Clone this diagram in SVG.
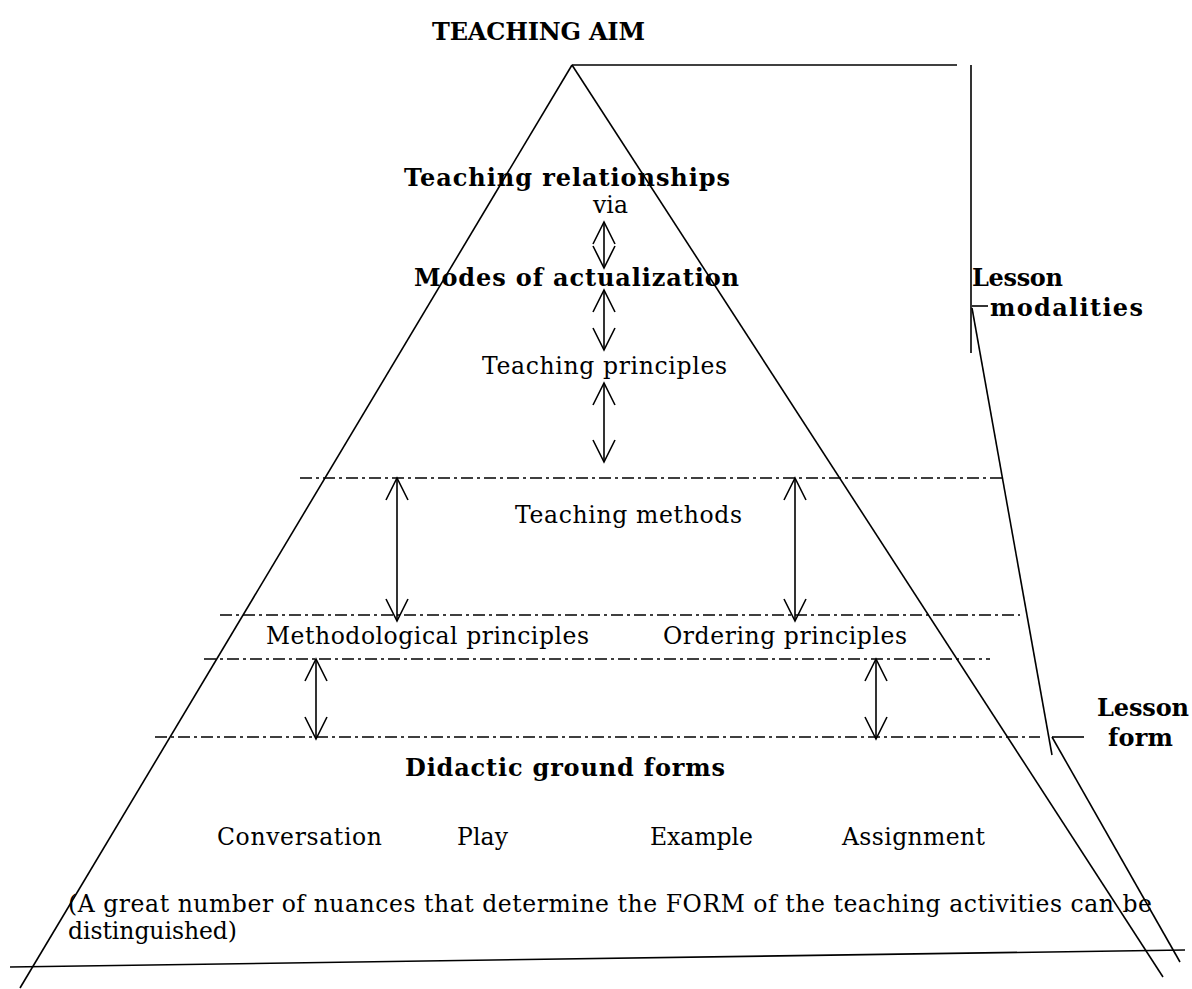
<svg xmlns="http://www.w3.org/2000/svg" width="1192" height="989" viewBox="0 0 1192 989">
<style>
.ln{stroke:#000;stroke-width:1.6;fill:none}
.dd{stroke:#000;stroke-width:1.3;fill:none;stroke-dasharray:12 4 3 4}
.ar{stroke:#000;stroke-width:1.6;fill:none;marker-start:url(#v);marker-end:url(#v)}
.b{font-family:"DejaVu Serif",serif;font-weight:bold;font-size:24px;fill:#000}
.r{font-family:"DejaVu Serif",serif;font-size:23.5px;fill:#000}
</style>
<defs>
<marker id="v" markerUnits="userSpaceOnUse" markerWidth="26" markerHeight="26" viewBox="0 0 26 26" refX="23" refY="13" orient="auto-start-reverse" overflow="visible">
<path d="M1,2 L23,13 L1,24" fill="none" stroke="#000" stroke-width="1.6"/>
</marker>
</defs>
<rect width="1192" height="989" fill="#fff"/>
<g id="frame">
<line class="ln" x1="572" y1="65" x2="20" y2="988"/>
<line class="ln" x1="572" y1="65" x2="1163" y2="977"/>
<line class="ln" x1="572" y1="65" x2="957" y2="65"/>
<line class="ln" x1="971" y1="65" x2="971" y2="353"/>
<line class="ln" x1="972" y1="306" x2="988" y2="306"/>
<line class="ln" x1="972" y1="308" x2="1052" y2="755"/>
<line class="ln" x1="1052" y1="737" x2="1084" y2="737"/>
<line class="ln" x1="1052" y1="737" x2="1180" y2="962"/>
<line class="ln" x1="10" y1="967" x2="1185" y2="950"/>
<line class="dd" x1="300" y1="478" x2="1005" y2="478"/>
<line class="dd" x1="220" y1="615" x2="1020" y2="615"/>
<line class="dd" x1="204" y1="659" x2="990" y2="659"/>
<line class="dd" x1="155" y1="737" x2="1040" y2="737"/>
</g>
<g id="connectors">
<line class="ar" x1="604" y1="222" x2="604" y2="268"/>
<line class="ar" x1="604" y1="290" x2="604" y2="350"/>
<line class="ar" x1="604" y1="383" x2="604" y2="462"/>
<line class="ar" x1="397" y1="478" x2="397" y2="621"/>
<line class="ar" x1="795" y1="478" x2="795" y2="621"/>
<line class="ar" x1="316" y1="659" x2="316" y2="739"/>
<line class="ar" x1="876" y1="659" x2="876" y2="739"/>
</g>
<g id="aim"><text class="b" x="432" y="40" font-size="21" textLength="213">TEACHING AIM</text></g>
<g id="relationships"><text class="b" x="404" y="186" textLength="326">Teaching relationships</text></g>
<g id="via"><text class="r" x="593" y="213" textLength="35">via</text></g>
<g id="modes"><text class="b" x="414" y="286" textLength="325">Modes of actualization</text></g>
<g id="principles"><text class="r" x="482" y="374" textLength="245">Teaching principles</text></g>
<g id="methods"><text class="r" x="515" y="523" textLength="227">Teaching methods</text></g>
<g id="methodological"><text class="r" x="266" y="644" textLength="323">Methodological principles</text></g>
<g id="ordering"><text class="r" x="663" y="644" textLength="244">Ordering principles</text></g>
<g id="ground"><text class="b" x="405" y="776" textLength="320">Didactic ground forms</text></g>
<g id="conversation"><text class="r" x="217" y="845" textLength="165">Conversation</text></g>
<g id="play"><text class="r" x="457" y="845" textLength="51">Play</text></g>
<g id="example"><text class="r" x="650" y="845" textLength="103">Example</text></g>
<g id="assignment"><text class="r" x="842" y="845" textLength="143">Assignment</text></g>
<g id="nuances">
<text class="r" x="68" y="912" textLength="1084">(A great number of nuances that determine the FORM of the teaching activities can be</text>
<text class="r" x="68" y="939" textLength="169">distinguished)</text>
</g>
<g id="lesson-modalities">
<text class="b" x="972" y="286" textLength="91">Lesson</text>
<text class="b" x="990" y="316" textLength="153">modalities</text>
</g>
<g id="lesson-form">
<text class="b" x="1097" y="716" textLength="92">Lesson</text>
<text class="b" x="1108" y="746" textLength="65">form</text>
</g>
</svg>
